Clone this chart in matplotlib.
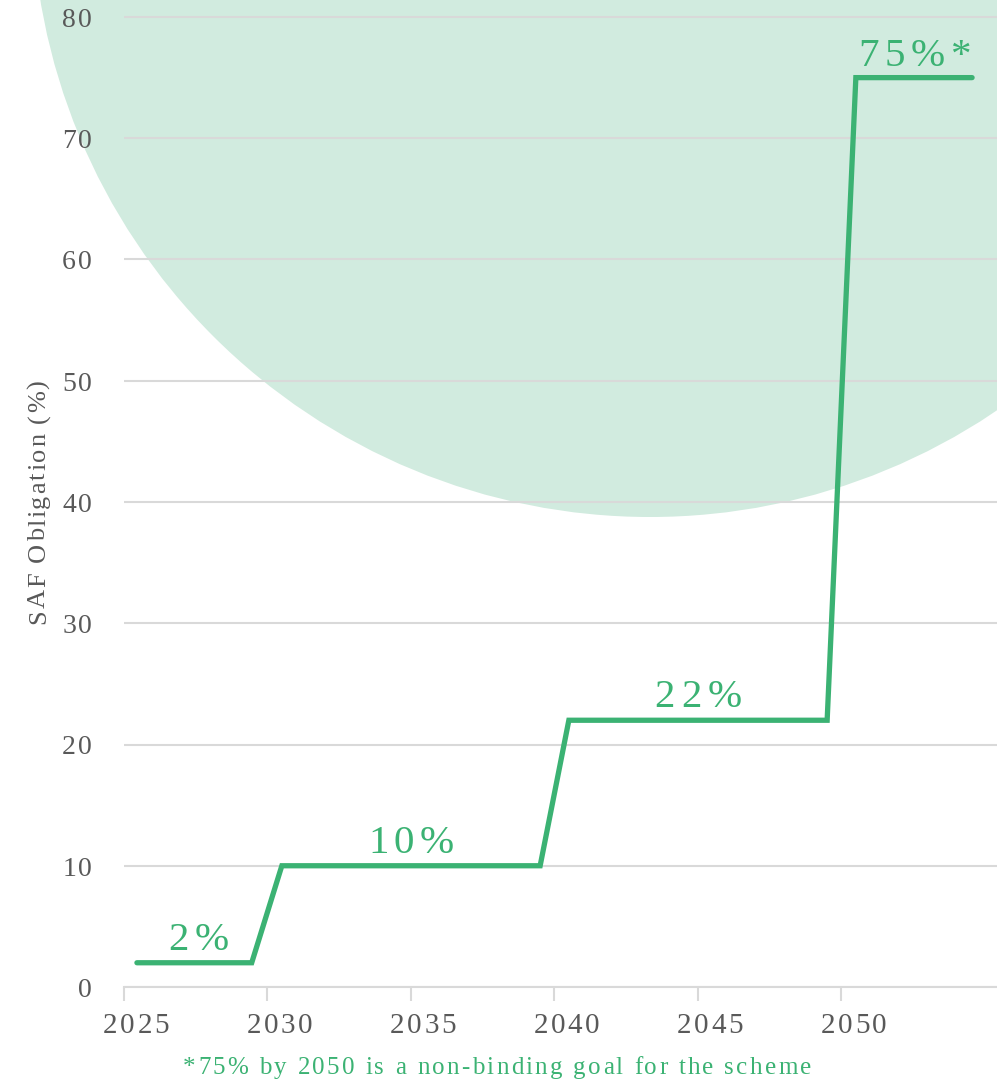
import matplotlib
matplotlib.use("Agg")
import matplotlib.pyplot as plt
from matplotlib.patches import Ellipse
from matplotlib.font_manager import FontProperties, findfont, get_font

# Data
step_years = [2025.45, 2029.45, 2030.5, 2039.5, 2040.5, 2049.5, 2050.5, 2054.55]
step_values = [2, 2, 10, 10, 22, 22, 75, 75]
label_texts = ["2%", "10%", "22%", "75%*"]
label_x = [2027.6, 2035.0, 2045.0, 2052.55]
label_y = [3.05, 11.05, 23.1, 75.95]
x_ticks = [2025, 2030, 2035, 2040, 2045, 2050]
y_ticks = [0, 10, 20, 30, 40, 50, 60, 70, 80]
y_label = "SAF Obligation (%)"
footnote = "*75% by 2050 is a non-binding goal for the scheme"

GREEN = "#3bb273"
LIGHT = "#d1ebdf"
GRID = "#d9d9d9"
TXT = "#595959"
FONT = ["Liberation Serif", "DejaVu Serif"]

plt.rcParams['font.family'] = FONT

W, H = 997, 1081
DPI = 100
fig = plt.figure(figsize=(W / DPI, H / DPI), dpi=DPI)
ax = fig.add_axes([124 / W, (H - 987) / H, 1 - 124 / W, 987 / H])
ax.set_facecolor("none")


def advances(s, size):
    prop = FontProperties(family=FONT, size=size)
    font = get_font(findfont(prop))
    font.set_size(size, DPI)
    out = []
    for c in s:
        g = font.load_char(ord(c))
        out.append(g.linearHoriAdvance / 65536)
    return out


def spaced_text(x, y, s, size, track, color, ha="center", vertical=False):
    """x, y in display pixels (origin bottom-left); y is the baseline."""
    adv = advances(s, size)
    total = sum(adv) + track * (len(s) - 1)
    if ha == "center":
        pos = -total / 2
    elif ha == "right":
        pos = -total
    else:
        pos = 0.0
    for c, a in zip(s, adv):
        mid = pos + a / 2
        if c != " ":
            if vertical:
                fig.text(x / W, (y + mid) / H, c, fontsize=size, color=color,
                         rotation=90, rotation_mode="anchor",
                         ha="center", va="baseline")
            else:
                fig.text((x + mid) / W, y / H, c, fontsize=size, color=color,
                         ha="center", va="baseline")
        pos += a + track


# background circle (figure coordinates)
circ = Ellipse((650 / W, (H + 101) / H), 2 * 618 / W, 2 * 618 / H,
               transform=fig.transFigure, facecolor=LIGHT, edgecolor="none",
               zorder=0, clip_on=False)
ax.add_artist(circ)

ax.set_xlim(2025, 2025 + (997 - 124) / 28.7)
ax.set_ylim(0, 80 + 17 / 12.125)

ax.set_axisbelow(True)
ax.grid(axis='y', color=GRID, linewidth=1.5)
ax.set_yticks(y_ticks)
ax.set_xticks(x_ticks)

for s in ["top", "right", "left"]:
    ax.spines[s].set_visible(False)
ax.spines["bottom"].set_color(GRID)
ax.spines["bottom"].set_linewidth(1.5)

ax.tick_params(axis='y', length=0, labelleft=False)
ax.tick_params(axis='x', length=10, width=1.5, color=GRID, labelbottom=False)

ax.plot(step_years, step_values, color=GREEN, linewidth=3.8,
        solid_capstyle='round', solid_joinstyle='miter', zorder=3, clip_on=False)

# tick labels with letter spacing
for xt in x_ticks:
    px, py = ax.transData.transform((xt, 0))
    spaced_text(px + 12, py - 46, str(xt), 21, 2.6, TXT, ha="center")
for yt in y_ticks:
    px, py = ax.transData.transform((2025, yt))
    spaced_text(px - 32, py - 10, str(yt), 20, 2.0, TXT, ha="right")

# step labels
label_track = [6.0, 5.0, 6.0, 6.0]
for t, x, y, tr in zip(label_texts, label_x, label_y, label_track):
    px, py = ax.transData.transform((x, y))
    spaced_text(px, py, t, 29.5, tr, GREEN, ha="center")

# axis title and footnote
spaced_text(45, H - 502, y_label, 19, 1.8, TXT, ha="center", vertical=True)
spaced_text(497, H - 1074, footnote, 18, 2.3, GREEN, ha="center")

fig.savefig("out.png", dpi=DPI)
